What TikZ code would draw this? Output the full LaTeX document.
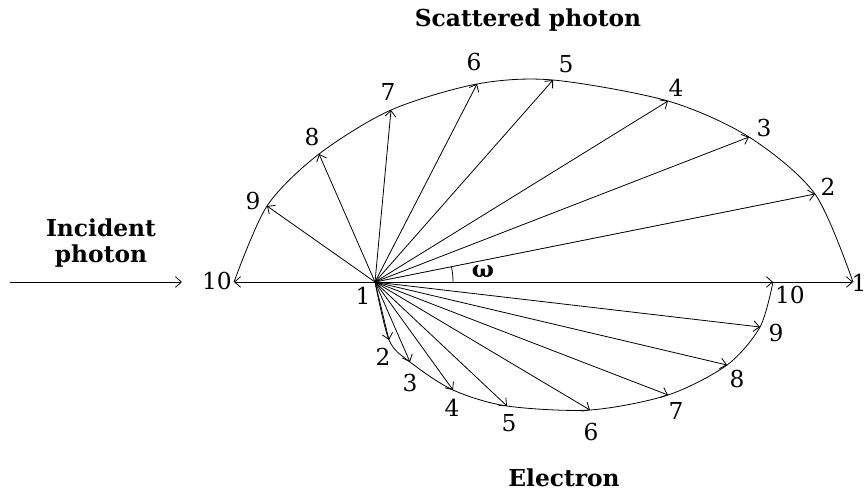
\documentclass[tikz,border=0pt]{standalone}
\usepackage{fontspec}
\setmainfont{DejaVu Serif}
\usetikzlibrary{arrows.meta,calc}

\begin{document}
\begin{tikzpicture}[
  x=0.75pt,y=-0.75pt,
  font=\fontsize{17.5}{19}\selectfont,
  vec/.style={-{Straight Barb[length=4.5pt,width=8pt]},line width=0.6pt},
  curve/.style={line width=0.6pt},
  num/.style={inner sep=0pt},
  title/.style={font=\fontsize{17.5}{19}\selectfont\bfseries,align=center,inner sep=0pt}]
\useasboundingbox (0,0) rectangle (865,494);
\coordinate (O) at (375,282);
% scattered photon tips
\coordinate (p1) at (853,282);
\coordinate (p2) at (815,194);
\coordinate (p3) at (749,137);
\coordinate (p4) at (668,101);
\coordinate (p5) at (553,80);
\coordinate (p6) at (477,84);
\coordinate (p7) at (391,110);
\coordinate (p8) at (319,154);
\coordinate (p9) at (267,206);
\coordinate (p10) at (234,282);
% electron tips
\coordinate (e2) at (389,340);
\coordinate (e3) at (410,362);
\coordinate (e4) at (453,390);
\coordinate (e5) at (507,406);
\coordinate (e6) at (590,410);
\coordinate (e7) at (668,395);
\coordinate (e8) at (727,365);
\coordinate (e9) at (760,327);
\coordinate (e10) at (773,282);
\coordinate (src) at (10,282);
\coordinate (hit) at (182,282);

\draw[curve] plot[smooth] coordinates {(p10) (p9) (p8) (p7) (p6) (p5) (p4) (p3) (p2) (p1)};
\draw[curve] plot[smooth] coordinates {(O) (e2) (e3) (e4) (e5) (e6) (e7) (e8) (e9) (e10)};

\draw[vec] (src) -- (hit);
\draw[vec] (O) -- (p1);
\draw[vec] (O) -- (p2);
\draw[vec] (O) -- (p3);
\draw[vec] (O) -- (p4);
\draw[vec] (O) -- (p5);
\draw[vec] (O) -- (p6);
\draw[vec] (O) -- (p7);
\draw[vec] (O) -- (p8);
\draw[vec] (O) -- (p9);
\draw[vec] (O) -- (p10);
\draw[vec] (O) -- (e2);
\draw[vec] (O) -- (e3);
\draw[vec] (O) -- (e4);
\draw[vec] (O) -- (e5);
\draw[vec] (O) -- (e6);
\draw[vec] (O) -- (e7);
\draw[vec] (O) -- (e8);
\draw[vec] (O) -- (e9);
\draw[vec] (O) -- (e10);

% angle omega
\draw[curve] ($(O)+(78,0)$) arc[start angle=0,end angle=11.3,radius=58.5pt];
\node[num,font=\fontsize{17.5}{19}\selectfont\bfseries] (w) at (483,271) {ω};

\node[num] (lp1) at (859,283) {1};
\node[num] (lp2) at (828,187) {2};
\node[num] (lp3) at (764,128) {3};
\node[num] (lp4) at (676,88) {4};
\node[num] (lp5) at (566,64) {5};
\node[num] (lp6) at (474,62) {6};
\node[num] (lp7) at (388,92) {7};
\node[num] (lp8) at (312,137) {8};
\node[num] (lp9) at (253,201) {9};
\node[num] (lp10) at (217,281) {10};

\node[num] (le1) at (363,296) {1};
\node[num] (le2) at (383,357) {2};
\node[num] (le3) at (410,383) {3};
\node[num] (le4) at (452,408) {4};
\node[num] (le5) at (509,423) {5};
\node[num] (le6) at (591,432) {6};
\node[num] (le7) at (676,411) {7};
\node[num] (le8) at (737,379) {8};
\node[num] (le9) at (776,333) {9};
\node[num] (le10) at (790,295) {10};

\node[title] (inc) at (101,243) {Incident\\photon};
\node[title] (scat) at (528,20) {Scattered photon};
\node[title] (el) at (564,478) {Electron};
\end{tikzpicture}
\end{document}
